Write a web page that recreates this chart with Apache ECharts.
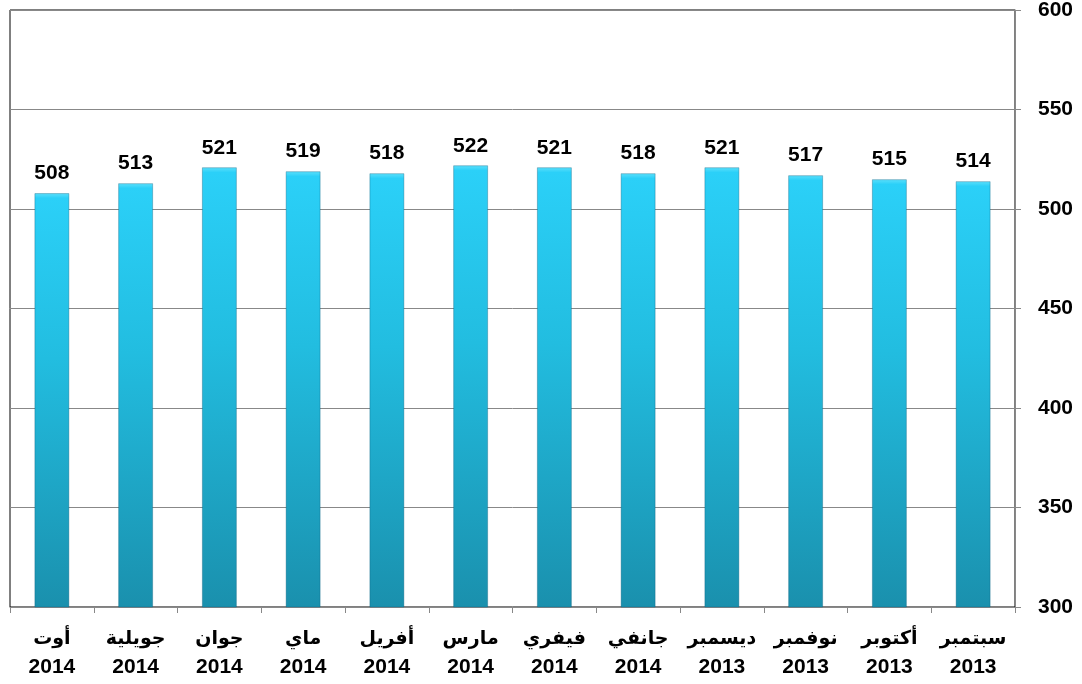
<!DOCTYPE html>
<html>
<head>
<meta charset="utf-8">
<script src="https://cdn.jsdelivr.net/npm/echarts@6/dist/echarts.min.js"></script>
<style>html,body{margin:0;padding:0;background:#fff}#c{width:1082px;height:684px}</style>
</head>
<body>
<div id="c"></div>
<script>
// chronological order (drawn right-to-left)
const months = ['سبتمبر','أكتوبر','نوفمبر','ديسمبر','جانفي','فيفري','مارس','أفريل','ماي','جوان','جويلية','أوت'];
const years  = ['2013','2013','2013','2013','2014','2014','2014','2014','2014','2014','2014','2014'];
const values = [514, 515, 517, 521, 518, 521, 522, 518, 519, 521, 513, 508];
const yTicks = {min: 300, max: 600, interval: 50};

const categories = months.map((m, i) => m + '\n' + years[i]);
const FONT = '"Liberation Sans", "DejaVu Sans", sans-serif';

const chart = echarts.init(document.getElementById('c'));
chart.setOption({
  animation: false,
  grid: {left: 10, right: 67, top: 10, bottom: 77, show: true, borderColor: '#000', borderWidth: 1, backgroundColor: 'transparent', outerBoundsMode: 'none', containLabel: false},
  xAxis: {
    type: 'category',
    data: categories,
    inverse: true,
    axisLine: {lineStyle: {color: '#888', width: 1}},
    axisTick: {show: true, length: 6, lineStyle: {color: '#888'}},
    axisLabel: {
      interval: 0, margin: 17,
      formatter: v => { const p = v.split('\n'); return '{m|' + p[0] + '}\n{y|' + p[1] + '}'; },
      rich: {
        m: {color: '#000', fontWeight: 'bold', fontSize: 19, fontFamily: FONT, lineHeight: 29},
        y: {color: '#000', fontWeight: 'bold', fontSize: 21, fontFamily: FONT, lineHeight: 29}
      }
    }
  },
  yAxis: [{
    type: 'value',
    position: 'right',
    min: yTicks.min, max: yTicks.max, interval: yTicks.interval,
    axisLine: {show: true, lineStyle: {color: '#888', width: 1}},
    axisTick: {show: true, length: 6, lineStyle: {color: '#888'}},
    splitLine: {lineStyle: {color: '#888', width: 1}},
    axisLabel: {show: false}
  }, {
    type: 'value',
    position: 'right',
    offset: 16,
    min: yTicks.min, max: yTicks.max, interval: yTicks.interval,
    axisLine: {show: false},
    axisTick: {show: false},
    splitLine: {show: false},
    axisLabel: {color: '#000', fontWeight: 'bold', fontSize: 21, fontFamily: FONT, margin: 7}
  }],
  series: [{
    type: 'bar',
    data: values,
    yAxisIndex: 0,
    barWidth: 35,
    itemStyle: {
      color: new echarts.graphic.LinearGradient(0, 0, 0, 1, [
        {offset: 0, color: '#5fe0fb'},
        {offset: 0.012, color: '#2bd0f8'},
        {offset: 0.4, color: '#22bde0'},
        {offset: 1, color: '#1a90ad'}
      ]),
      borderColor: 'rgba(10,90,120,0.35)',
      borderWidth: 1
    },
    label: {show: true, position: 'top', distance: 9, color: '#000', fontWeight: 'bold', fontSize: 21, fontFamily: FONT}
  }]
});
</script>
</body>
</html>
